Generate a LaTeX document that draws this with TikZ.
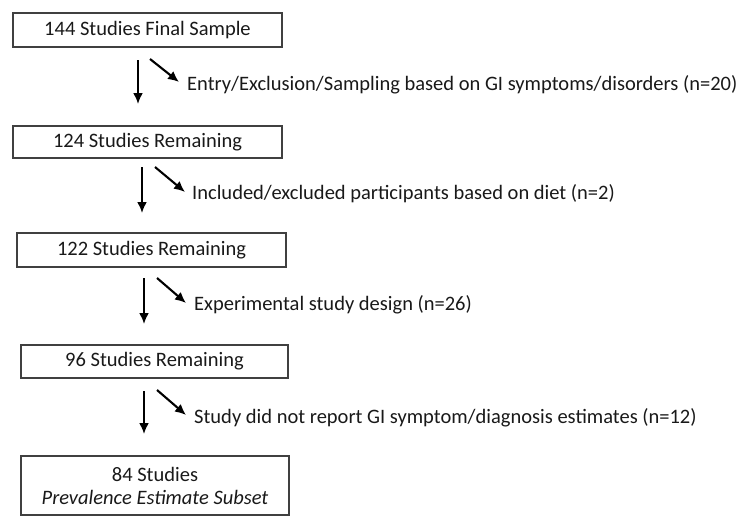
\documentclass[tikz,border=0pt]{standalone}
\usepackage{fontspec}
\setmainfont{Carlito}
\usetikzlibrary{arrows.meta}
\begin{document}
\begin{tikzpicture}[x=1pt,y=-1pt,
  box/.style={draw=black!75,line width=1.3pt,inner sep=0pt,font=\fontsize{20.5}{23}\selectfont,text=black!90,align=center},
  lbl/.style={anchor=west,inner sep=0pt,font=\fontsize{20.5}{23}\selectfont,text=black!90},
  arr/.style={line width=2.1pt,-{Latex[length=11pt,width=10pt]}}]
\useasboundingbox (0,0) rectangle (750,522);
\node[box,minimum width=269pt,minimum height=34pt] (b1) at (147.5,30) {144 Studies Final Sample};
\node[box,minimum width=269pt,minimum height=32pt] (b2) at (147.5,142) {124 Studies Remaining};
\node[box,minimum width=269pt,minimum height=34pt] (b3) at (151.5,250) {122 Studies Remaining};
\node[box,minimum width=267pt,minimum height=33pt] (b4) at (154.5,361.5) {96 Studies Remaining};
\node[box,minimum width=268pt,minimum height=59pt] (b5) at (155,485.5) {84 Studies\\\textit{Prevalence Estimate Subset}};
% vertical arrows
\coordinate (v1s) at (138,60); \coordinate (v1e) at (138,104);
\coordinate (v2s) at (142,167); \coordinate (v2e) at (142,213);
\coordinate (v3s) at (144,278); \coordinate (v3e) at (144,324);
\coordinate (v4s) at (144,391); \coordinate (v4e) at (144,434);
\draw[arr] (v1s) -- (v1e);
\draw[arr] (v2s) -- (v2e);
\draw[arr] (v3s) -- (v3e);
\draw[arr] (v4s) -- (v4e);
% diagonal arrows
\coordinate (d1s) at (150,59); \coordinate (d1e) at (179,82);
\coordinate (d2s) at (155,167); \coordinate (d2e) at (185,192);
\coordinate (d3s) at (157,278); \coordinate (d3e) at (186,303);
\coordinate (d4s) at (157,390); \coordinate (d4e) at (186,415);
\draw[arr] (d1s) -- (d1e);
\draw[arr] (d2s) -- (d2e);
\draw[arr] (d3s) -- (d3e);
\draw[arr] (d4s) -- (d4e);
% labels
\node[lbl] (l1) at (187,85) {Entry/Exclusion/Sampling based on GI symptoms/disorders (n=20)};
\node[lbl] (l2) at (192,194) {Included/excluded participants based on diet (n=2)};
\node[lbl] (l3) at (194,305) {Experimental study design (n=26)};
\node[lbl] (l4) at (194,418) {Study did not report GI symptom/diagnosis estimates (n=12)};
\end{tikzpicture}
\end{document}
